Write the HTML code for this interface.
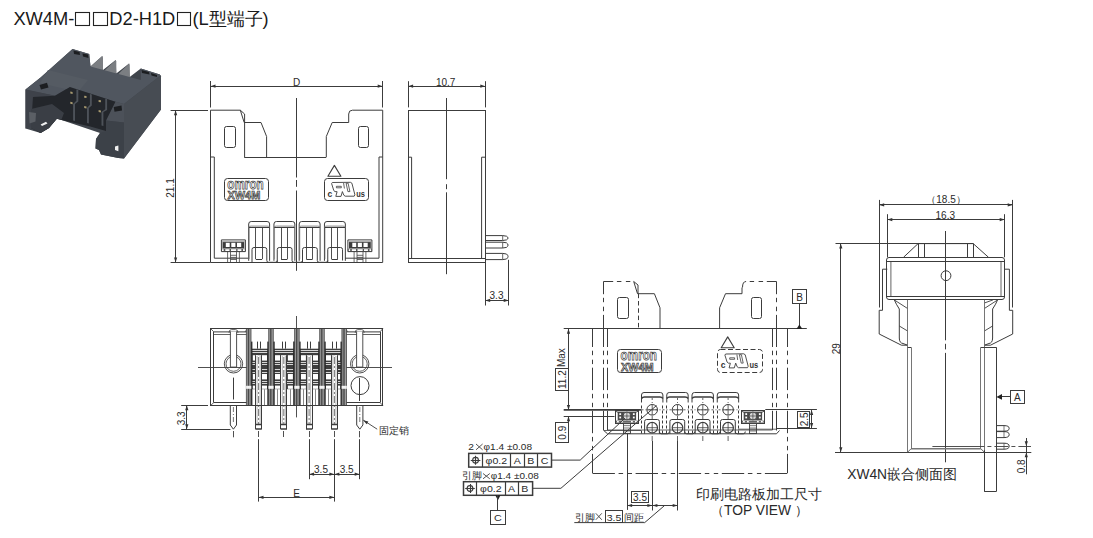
<!DOCTYPE html>
<html><head><meta charset="utf-8"><style>
html,body{margin:0;padding:0;background:#fff;width:1093px;height:538px;overflow:hidden}
svg{display:block;font-family:"Liberation Sans", sans-serif}
</style></head><body>
<svg width="1093" height="538" viewBox="0 0 1093 538">
<text x="13.4" y="25.3" font-size="18.3" text-anchor="start" fill="#1a1a1a">XW4M-</text>
<rect x="75.5" y="12.5" width="14" height="13" rx="0" stroke="#222" stroke-width="1.1" fill="none"/>
<rect x="93.5" y="12.5" width="14" height="13" rx="0" stroke="#222" stroke-width="1.1" fill="none"/>
<text x="109.3" y="25.3" font-size="18.3" text-anchor="start" fill="#1a1a1a">D2-H1D</text>
<rect x="177.5" y="12.5" width="13" height="13" rx="0" stroke="#222" stroke-width="1.1" fill="none"/>
<text x="192.4" y="25.3" font-size="18.3" text-anchor="start" fill="#1a1a1a">(L</text>
<text x="208.6" y="25.3" font-size="18.3" text-anchor="start" fill="#1a1a1a">型端子</text>
<text x="262.6" y="25.3" font-size="18.3" text-anchor="start" fill="#1a1a1a">)</text>
<path d="M72.5,48.9 L89.2,53.9 L90.5,66.5 L102.3,56.1 L103,70 L115.7,60 L116.3,73.5 L129.1,63.4 L129.7,77 L140.8,68.4 L159.8,74.5 L161,76 L161,109.5 L124,158.6 L118.4,158 L101,154.5 L99,150 L95.5,148.5 L96,139 L100,133 L61.5,120 L56.8,118.7 L49,127.9 L40.6,133 L25.5,128.5 L25.5,89.6 L40.6,77.4 Z" fill="#40454c"/>
<path d="M90.5,66.5 L102.3,56.1 L103,57.5 L103,71.5 L95,69 Z" fill="#7b7e82"/>
<path d="M103.5,71.5 L115.7,60 L116.3,61.5 L116.3,75.5 L108,73.5 Z" fill="#7b7e82"/>
<path d="M116.8,75.5 L129.1,63.4 L129.7,65 L129.7,79.5 L121,77.5 Z" fill="#7b7e82"/>
<path d="M72.5,48.9 L89.2,53.9 L90.5,66.5 L140.8,80 L140.8,68.4 L159.8,74.5 L160.5,75.5 L124,104 L115.4,101.8 L69.9,87 L55,95.8 L25.5,89.6 L40.6,77.4 Z" fill="#50565f"/>
<path d="M48,70 L88,80 L78,92 L40,83 Z" fill="#555b63"/>
<path d="M160.5,75.5 L161,76.5 L161,109.5 L124,158.6 L124,104 Z" fill="#474c53"/>
<path d="M115.4,101.8 L124,104 L124,122.5 L106,120.5 Z" fill="#4c5159"/>
<path d="M106,120.5 L124,122.5 L124,158.6 L118.4,158 L101,154.5 L99,150 L95.5,148.5 L96,139 L100,133 L106,131 Z" fill="#3c4148"/>
<path d="M25.5,89.6 L55,95.8 L33,97 L31,126 L25.5,128.5 Z" fill="#3e424a"/>
<path d="M33,97 L55,95.8 L69.9,87 L115.4,101.8 L106,120.5 L106,131 L90.3,126.5 L61.5,120 L56.8,118.7 L49,127.9 L40.6,133 L31,128 L31,126 Z" fill="#23262b"/>
<path d="M31,109 L52,104 L64,113 L61.5,119.5 L56.8,118.7 L49,127.9 L40.6,133 L31,128 Z" fill="#3a3e45"/>
<path d="M29,112 L36,113 L35.5,121.5 L29.5,123.5 Z" fill="#5b5f65"/>
<path d="M76.4,89.5 L78.3,90.1 L78.3,101.5 L75,104 L75,121 L73.1,120.5 L73.1,104 L76.4,100.7 Z" fill="#4d5259"/>
<path d="M89.9,94 L91.8,94.6 L91.8,105.5 L88.9,108 L88.9,123.5 L87,123 L87,108 L89.9,104.7 Z" fill="#4d5259"/>
<path d="M105.2,98.5 L107.1,99.1 L107.1,110 L103.4,112 L103.4,126 L101.5,125.5 L101.5,112 L105.2,109.2 Z" fill="#4d5259"/>
<path d="M70.3,91.5 L72.6,91.9 L72.6,93.9 L70.3,93.5 Z" fill="#a89a70"/>
<path d="M70.3,101.8 L72.6,102.2 L72.6,104.2 L70.3,103.8 Z" fill="#a89a70"/>
<path d="M84.2,95.7 L86.5,96.1 L86.5,98.1 L84.2,97.7 Z" fill="#a89a70"/>
<path d="M84.2,106 L86.5,106.4 L86.5,108.4 L84.2,108 Z" fill="#a89a70"/>
<path d="M98.6,99.9 L100.9,100.3 L100.9,102.3 L98.6,101.9 Z" fill="#a89a70"/>
<path d="M98.6,110.1 L100.9,110.5 L100.9,112.5 L98.6,112.1 Z" fill="#a89a70"/>
<path d="M39.5,85 L47,82.8 L48.5,87.5 L41,89.5 Z" fill="#1c1e21"/>
<path d="M113.8,107 L121.5,105.5 L122,110.5 L114.5,111.7 Z" fill="#1c1e21"/>
<path d="M40.6,124.5 L46,121.8 L47.5,123.5 L42,126 Z" fill="#f0f0f0"/>
<path d="M115,146.5 L118.4,145.4 L118.4,151.2 L115,150 Z" fill="#f0f0f0"/>
<path d="M73.5,50.5 L79.5,52 L80,55 L74,54 Z" fill="#1c1e21"/>
<path d="M141.5,70 L149,72 L149.5,74.5 L142,73 Z" fill="#1c1e21"/>
<path d="M151,73 L157,75 L157,77 L151.5,75.5 Z" fill="#1c1e21"/>
<path d="M82.5,53.5 L88,54.5 L88.5,58 L83,56.5 Z" fill="#1c1e21"/>
<line x1="210.5" y1="81" x2="210.5" y2="107.5" stroke="#3c3c3c" stroke-width="1"/>
<line x1="382.5" y1="81" x2="382.5" y2="107.5" stroke="#3c3c3c" stroke-width="1"/>
<line x1="210.5" y1="86.5" x2="382.7" y2="86.5" stroke="#3c3c3c" stroke-width="1"/>
<path d="M210.5,86.2 L215.5,84.6 L215.5,87.8 Z" fill="#333"/>
<path d="M382.7,86.2 L377.7,84.6 L377.7,87.8 Z" fill="#333"/>
<text x="296.5" y="85.7" font-size="10" text-anchor="middle" fill="#2a2a2a">D</text>
<line x1="170.6" y1="110.5" x2="208" y2="110.5" stroke="#3c3c3c" stroke-width="1"/>
<line x1="170.6" y1="262.5" x2="210.5" y2="262.5" stroke="#3c3c3c" stroke-width="1"/>
<line x1="175.5" y1="110.2" x2="175.5" y2="262.4" stroke="#3c3c3c" stroke-width="1"/>
<path d="M175.6,110.2 L174,115.2 L177.2,115.2 Z" fill="#333"/>
<path d="M175.6,262.4 L174,257.4 L177.2,257.4 Z" fill="#333"/>
<text x="174" y="188" font-size="10" text-anchor="middle" fill="#2a2a2a" transform="rotate(-90 174 188)">21.1</text>
<path d="M210.5,262.4 L210.5,110.2 L240.3,110.2 L244.6,114 L244.6,157" stroke="#3c3c3c" stroke-width="1" fill="none"/>
<line x1="240.3" y1="110.2" x2="244.2" y2="122.5" stroke="#3c3c3c" stroke-width="1"/>
<path d="M244.2,122.5 L261,122.5 L266.6,136.5 L266.6,157" stroke="#3c3c3c" stroke-width="1" fill="none"/>
<line x1="244.2" y1="157.5" x2="326.3" y2="157.5" stroke="#3c3c3c" stroke-width="1"/>
<path d="M326.3,157 L326.3,136.5 L332.2,122.5 L348.7,122.5 L348.7,114 Q348.7,110.2 352.5,110.2 L382.7,110.2 L382.7,262.4" stroke="#3c3c3c" stroke-width="1" fill="none"/>
<rect x="224.5" y="126.5" width="11" height="21" rx="2" stroke="#3c3c3c" stroke-width="1" fill="none"/>
<rect x="358.5" y="126.5" width="10" height="21" rx="2" stroke="#3c3c3c" stroke-width="1" fill="none"/>
<path d="M210.5,157 L214.3,157 L214.3,258.2 L248.2,258.2" stroke="#3c3c3c" stroke-width="1" fill="none"/>
<path d="M382.7,157 L379,157 L379,258.2 L345,258.2" stroke="#3c3c3c" stroke-width="1" fill="none"/>
<line x1="210.5" y1="262.5" x2="382.7" y2="262.5" stroke="#3c3c3c" stroke-width="1"/>
<line x1="296.5" y1="98" x2="296.5" y2="177.5" stroke="#3c3c3c" stroke-width="1"/>
<line x1="296.5" y1="180" x2="296.5" y2="186.8" stroke="#3c3c3c" stroke-width="1"/>
<line x1="296.5" y1="190.5" x2="296.5" y2="270.8" stroke="#3c3c3c" stroke-width="1"/>
<rect x="224.5" y="178.5" width="44" height="22" rx="3" stroke="#3c3c3c" stroke-width="1" fill="none"/>
<text x="227.3" y="188.8" font-size="14.5" font-weight="bold" textLength="36.4" lengthAdjust="spacingAndGlyphs" fill="#fff" stroke="#3a3a3a" stroke-width="0.75">omron</text>
<text x="227.6" y="199.1" font-size="10.7" font-weight="bold" textLength="32.6" lengthAdjust="spacingAndGlyphs" fill="#fff" stroke="#3a3a3a" stroke-width="0.75">XW4M</text>
<rect x="324.5" y="178.5" width="44" height="22" rx="3" stroke="#3c3c3c" stroke-width="1" fill="none"/>
<path d="M327.9,176.3 L334.4,165.4 L340.9,176.3 Z" stroke="#3c3c3c" stroke-width="1.1" fill="none" stroke-linejoin="round"/>
<path d="M332.3,182.5 L350.4,182.3 L351.9,183.2 L354.9,194.8 L354.2,196.2 L345.2,196.2 L343.8,195.2 L342.4,191.6 L341,196.4 L335.8,196.4 L337.1,191.7 L335,191.6 L333.8,190.6 L331.6,183.6 Z" stroke="#3c3c3c" stroke-width="0.9" fill="#fff"/>
<path d="M346.1,183.2 L348.1,183.2 L349.9,191.6 L347.9,191.6 Z" stroke="#3c3c3c" stroke-width="0.8" fill="none"/>
<path d="M336.4,186.3 L341.3,186.3 L341.3,187.8 L336.4,187.8 Z" stroke="#3c3c3c" stroke-width="0.8" fill="none"/>
<line x1="343.6" y1="183" x2="344.4" y2="188.5" stroke="#3c3c3c" stroke-width="0.8"/>
<text x="329.8" y="196.6" font-size="8.5" font-weight="bold" text-anchor="middle" fill="#333">c</text>
<text x="356.2" y="196.6" font-size="8.5" font-weight="bold" textLength="8.7" lengthAdjust="spacingAndGlyphs" fill="#333">us</text>
<path d="M248.7,260.8 L248.7,224 Q248.7,221.5 251.2,221.5 L267.1,221.5 Q269.6,221.5 269.6,224 L269.6,260.8" stroke="#3c3c3c" stroke-width="1" fill="none"/>
<line x1="249.3" y1="226.5" x2="249.3" y2="259" stroke="#777" stroke-width="0.6"/>
<path d="M248.7,227.1 Q249.3,226.1 251.2,226.1 L267.1,226.1 Q269,226.1 269.6,227.1" stroke="#888" stroke-width="1" fill="none"/>
<line x1="249" y1="227.5" x2="269.3" y2="227.5" stroke="#3c3c3c" stroke-width="1"/>
<line x1="255.5" y1="227.2" x2="255.5" y2="259.1" stroke="#3c3c3c" stroke-width="0.9"/>
<line x1="262.5" y1="227.2" x2="262.5" y2="259.1" stroke="#3c3c3c" stroke-width="0.9"/>
<line x1="255.85" y1="259.5" x2="262.05" y2="259.5" stroke="#3c3c3c" stroke-width="1"/>
<path d="M252,262.4 L252,249.5 Q252,247.5 254,247.5 L264.8,247.5 Q266.8,247.5 266.8,249.5 L266.8,260.5" stroke="#3c3c3c" stroke-width="1" fill="none"/>
<path d="M266.8,260.5 Q266.8,262.3 268.6,262.3 L275.45,262.3 Q277.25,262.3 277.25,260.5" stroke="#3c3c3c" stroke-width="1" fill="none"/>
<path d="M273.95,260.8 L273.95,224 Q273.95,221.5 276.45,221.5 L292.35,221.5 Q294.85,221.5 294.85,224 L294.85,260.8" stroke="#3c3c3c" stroke-width="1" fill="none"/>
<line x1="274.55" y1="226.5" x2="274.55" y2="259" stroke="#777" stroke-width="0.6"/>
<path d="M273.95,227.1 Q274.55,226.1 276.45,226.1 L292.35,226.1 Q294.25,226.1 294.85,227.1" stroke="#888" stroke-width="1" fill="none"/>
<line x1="274.25" y1="227.5" x2="294.55" y2="227.5" stroke="#3c3c3c" stroke-width="1"/>
<line x1="281.5" y1="227.2" x2="281.5" y2="259.1" stroke="#3c3c3c" stroke-width="0.9"/>
<line x1="287.5" y1="227.2" x2="287.5" y2="259.1" stroke="#3c3c3c" stroke-width="0.9"/>
<line x1="281.1" y1="259.5" x2="287.3" y2="259.5" stroke="#3c3c3c" stroke-width="1"/>
<path d="M277.25,262.4 L277.25,249.5 Q277.25,247.5 279.25,247.5 L290.05,247.5 Q292.05,247.5 292.05,249.5 L292.05,260.5" stroke="#3c3c3c" stroke-width="1" fill="none"/>
<path d="M292.05,260.5 Q292.05,262.3 293.85,262.3 L300.7,262.3 Q302.5,262.3 302.5,260.5" stroke="#3c3c3c" stroke-width="1" fill="none"/>
<path d="M299.2,260.8 L299.2,224 Q299.2,221.5 301.7,221.5 L317.6,221.5 Q320.1,221.5 320.1,224 L320.1,260.8" stroke="#3c3c3c" stroke-width="1" fill="none"/>
<line x1="299.8" y1="226.5" x2="299.8" y2="259" stroke="#777" stroke-width="0.6"/>
<path d="M299.2,227.1 Q299.8,226.1 301.7,226.1 L317.6,226.1 Q319.5,226.1 320.1,227.1" stroke="#888" stroke-width="1" fill="none"/>
<line x1="299.5" y1="227.5" x2="319.8" y2="227.5" stroke="#3c3c3c" stroke-width="1"/>
<line x1="306.5" y1="227.2" x2="306.5" y2="259.1" stroke="#3c3c3c" stroke-width="0.9"/>
<line x1="312.5" y1="227.2" x2="312.5" y2="259.1" stroke="#3c3c3c" stroke-width="0.9"/>
<line x1="306.35" y1="259.5" x2="312.55" y2="259.5" stroke="#3c3c3c" stroke-width="1"/>
<path d="M302.5,262.4 L302.5,249.5 Q302.5,247.5 304.5,247.5 L315.3,247.5 Q317.3,247.5 317.3,249.5 L317.3,260.5" stroke="#3c3c3c" stroke-width="1" fill="none"/>
<path d="M317.3,260.5 Q317.3,262.3 319.1,262.3 L325.95,262.3 Q327.75,262.3 327.75,260.5" stroke="#3c3c3c" stroke-width="1" fill="none"/>
<path d="M324.45,260.8 L324.45,224 Q324.45,221.5 326.95,221.5 L342.85,221.5 Q345.35,221.5 345.35,224 L345.35,260.8" stroke="#3c3c3c" stroke-width="1" fill="none"/>
<line x1="325.05" y1="226.5" x2="325.05" y2="259" stroke="#777" stroke-width="0.6"/>
<path d="M324.45,227.1 Q325.05,226.1 326.95,226.1 L342.85,226.1 Q344.75,226.1 345.35,227.1" stroke="#888" stroke-width="1" fill="none"/>
<line x1="324.75" y1="227.5" x2="345.05" y2="227.5" stroke="#3c3c3c" stroke-width="1"/>
<line x1="331.5" y1="227.2" x2="331.5" y2="259.1" stroke="#3c3c3c" stroke-width="0.9"/>
<line x1="337.5" y1="227.2" x2="337.5" y2="259.1" stroke="#3c3c3c" stroke-width="0.9"/>
<line x1="331.6" y1="259.5" x2="337.8" y2="259.5" stroke="#3c3c3c" stroke-width="1"/>
<path d="M327.75,262.4 L327.75,249.5 Q327.75,247.5 329.75,247.5 L340.55,247.5 Q342.55,247.5 342.55,249.5 L342.55,260.5" stroke="#3c3c3c" stroke-width="1" fill="none"/>
<rect x="222.5" y="241" width="21.8" height="7.5" rx="0" stroke="none" stroke-width="0" fill="#3c3c3c"/>
<rect x="225.8" y="242.8" width="3.9" height="4.2" rx="0" stroke="none" stroke-width="0" fill="#fff"/>
<rect x="231.3" y="242.8" width="4.1" height="4.2" rx="0" stroke="none" stroke-width="0" fill="#fff"/>
<rect x="237" y="242.8" width="4.2" height="4.2" rx="0" stroke="none" stroke-width="0" fill="#fff"/>
<line x1="222.5" y1="241.6" x2="244.3" y2="241.6" stroke="#ddd" stroke-width="0.8"/>
<rect x="221.4" y="248.8" width="24" height="2.5" rx="0" stroke="none" stroke-width="0" fill="#555"/>
<rect x="222" y="249.2" width="1.7" height="1.8" rx="0" stroke="none" stroke-width="0" fill="#fff"/>
<rect x="225.3" y="249.2" width="4.2" height="1.8" rx="0" stroke="none" stroke-width="0" fill="#fff"/>
<rect x="231" y="249.2" width="5.2" height="1.8" rx="0" stroke="none" stroke-width="0" fill="#fff"/>
<rect x="237.5" y="249.2" width="3.9" height="1.8" rx="0" stroke="none" stroke-width="0" fill="#fff"/>
<rect x="243" y="249.2" width="2" height="1.8" rx="0" stroke="none" stroke-width="0" fill="#fff"/>
<path d="M221.4,239.9 L245.4,239.9 L245.4,251.6 L221.4,251.6 Z" stroke="#3c3c3c" stroke-width="1" fill="none"/>
<line x1="227.6" y1="251.6" x2="227.6" y2="262.2" stroke="#444" stroke-width="0.8"/>
<line x1="230.5" y1="251.6" x2="230.5" y2="262.2" stroke="#444" stroke-width="0.8"/>
<line x1="236.5" y1="251.6" x2="236.5" y2="262.2" stroke="#444" stroke-width="0.8"/>
<line x1="239.4" y1="251.6" x2="239.4" y2="262.2" stroke="#444" stroke-width="0.8"/>
<line x1="230.5" y1="255.3" x2="236.5" y2="255.3" stroke="#444" stroke-width="0.8"/>
<line x1="230.5" y1="257.4" x2="236.5" y2="257.4" stroke="#444" stroke-width="0.8"/>
<line x1="230.5" y1="259.5" x2="236.5" y2="259.5" stroke="#444" stroke-width="0.8"/>
<rect x="349" y="241" width="21.8" height="7.5" rx="0" stroke="none" stroke-width="0" fill="#3c3c3c"/>
<rect x="352.3" y="242.8" width="3.9" height="4.2" rx="0" stroke="none" stroke-width="0" fill="#fff"/>
<rect x="357.8" y="242.8" width="4.1" height="4.2" rx="0" stroke="none" stroke-width="0" fill="#fff"/>
<rect x="363.5" y="242.8" width="4.2" height="4.2" rx="0" stroke="none" stroke-width="0" fill="#fff"/>
<line x1="349" y1="241.6" x2="370.8" y2="241.6" stroke="#ddd" stroke-width="0.8"/>
<rect x="347.9" y="248.8" width="24" height="2.5" rx="0" stroke="none" stroke-width="0" fill="#555"/>
<rect x="348.5" y="249.2" width="1.7" height="1.8" rx="0" stroke="none" stroke-width="0" fill="#fff"/>
<rect x="351.8" y="249.2" width="4.2" height="1.8" rx="0" stroke="none" stroke-width="0" fill="#fff"/>
<rect x="357.5" y="249.2" width="5.2" height="1.8" rx="0" stroke="none" stroke-width="0" fill="#fff"/>
<rect x="364" y="249.2" width="3.9" height="1.8" rx="0" stroke="none" stroke-width="0" fill="#fff"/>
<rect x="369.5" y="249.2" width="2" height="1.8" rx="0" stroke="none" stroke-width="0" fill="#fff"/>
<path d="M347.9,239.9 L371.9,239.9 L371.9,251.6 L347.9,251.6 Z" stroke="#3c3c3c" stroke-width="1" fill="none"/>
<line x1="354.1" y1="251.6" x2="354.1" y2="262.2" stroke="#444" stroke-width="0.8"/>
<line x1="357" y1="251.6" x2="357" y2="262.2" stroke="#444" stroke-width="0.8"/>
<line x1="363" y1="251.6" x2="363" y2="262.2" stroke="#444" stroke-width="0.8"/>
<line x1="365.9" y1="251.6" x2="365.9" y2="262.2" stroke="#444" stroke-width="0.8"/>
<line x1="357" y1="255.3" x2="363" y2="255.3" stroke="#444" stroke-width="0.8"/>
<line x1="357" y1="257.4" x2="363" y2="257.4" stroke="#444" stroke-width="0.8"/>
<line x1="357" y1="259.5" x2="363" y2="259.5" stroke="#444" stroke-width="0.8"/>
<line x1="408.5" y1="81.2" x2="408.5" y2="107.4" stroke="#3c3c3c" stroke-width="1"/>
<line x1="485.5" y1="81.2" x2="485.5" y2="107.4" stroke="#3c3c3c" stroke-width="1"/>
<line x1="408.1" y1="86.5" x2="485.3" y2="86.5" stroke="#3c3c3c" stroke-width="1"/>
<path d="M408.1,86.2 L413.1,84.6 L413.1,87.8 Z" fill="#333"/>
<path d="M485.3,86.2 L480.3,84.6 L480.3,87.8 Z" fill="#333"/>
<text x="445.7" y="85.7" font-size="10" text-anchor="middle" fill="#2a2a2a">10.7</text>
<rect x="408.5" y="110.5" width="77" height="152" rx="0" stroke="#3c3c3c" stroke-width="1" fill="none"/>
<path d="M408.1,157.2 L411.6,157.2 L411.6,258.6" stroke="#3c3c3c" stroke-width="1" fill="none"/>
<path d="M485.3,157.2 L481.6,157.2 L481.6,258.6" stroke="#3c3c3c" stroke-width="1" fill="none"/>
<line x1="408.1" y1="258.5" x2="485.3" y2="258.5" stroke="#3c3c3c" stroke-width="1"/>
<line x1="446.5" y1="98" x2="446.5" y2="179.2" stroke="#3c3c3c" stroke-width="1"/>
<line x1="446.5" y1="184.2" x2="446.5" y2="189.2" stroke="#3c3c3c" stroke-width="1"/>
<line x1="446.5" y1="192.3" x2="446.5" y2="274.2" stroke="#3c3c3c" stroke-width="1"/>
<path d="M485.3,235.6 L502.7,235.6 L506.5,236.2 Q509.6,238.05 506.5,239.9 L502.7,240.5 L485.3,240.5" stroke="#3c3c3c" stroke-width="1" fill="none"/>
<line x1="502.7" y1="235.6" x2="502.7" y2="240.5" stroke="#3c3c3c" stroke-width="0.8"/>
<path d="M485.3,242.2 L502.7,242.2 L506.5,242.8 Q509.6,245.1 506.5,247.4 L502.7,248 L485.3,248" stroke="#3c3c3c" stroke-width="1" fill="none"/>
<line x1="502.7" y1="242.2" x2="502.7" y2="248" stroke="#3c3c3c" stroke-width="0.8"/>
<path d="M485.3,253.4 L502.7,253.4 L506.5,254 Q509.6,256.5 506.5,259 L502.7,259.6 L485.3,259.6" stroke="#3c3c3c" stroke-width="1" fill="none"/>
<line x1="502.7" y1="253.4" x2="502.7" y2="259.6" stroke="#3c3c3c" stroke-width="0.8"/>
<line x1="485.5" y1="262.3" x2="485.5" y2="305.5" stroke="#3c3c3c" stroke-width="1"/>
<line x1="508.5" y1="259.8" x2="508.5" y2="305.5" stroke="#3c3c3c" stroke-width="1"/>
<line x1="485.2" y1="300.5" x2="508.7" y2="300.5" stroke="#3c3c3c" stroke-width="1"/>
<path d="M485.2,300.4 L490.2,298.8 L490.2,302 Z" fill="#333"/>
<path d="M508.7,300.4 L503.7,298.8 L503.7,302 Z" fill="#333"/>
<text x="496.5" y="299" font-size="10" text-anchor="middle" fill="#2a2a2a">3.3</text>
<rect x="210.5" y="328.5" width="172" height="77" rx="0" stroke="#3c3c3c" stroke-width="1" fill="none"/>
<path d="M247.7,328.5 L247.7,405.5" stroke="#3c3c3c" stroke-width="1" fill="none"/>
<path d="M345,328.5 L345,405.5" stroke="#3c3c3c" stroke-width="1" fill="none"/>
<path d="M213.9,331.9 L247.7,331.9" stroke="#3c3c3c" stroke-width="1" fill="none"/>
<path d="M213.9,402.5 L247.7,402.5" stroke="#3c3c3c" stroke-width="1" fill="none"/>
<line x1="213.5" y1="331.9" x2="213.5" y2="402.5" stroke="#3c3c3c" stroke-width="1"/>
<path d="M345,331.9 L380,331.9" stroke="#3c3c3c" stroke-width="1" fill="none"/>
<path d="M345,402.5 L380,402.5" stroke="#3c3c3c" stroke-width="1" fill="none"/>
<line x1="380.5" y1="331.9" x2="380.5" y2="402.5" stroke="#3c3c3c" stroke-width="1"/>
<line x1="210.5" y1="328.5" x2="213.9" y2="331.9" stroke="#3c3c3c" stroke-width="0.8"/>
<line x1="210.5" y1="405.5" x2="213.9" y2="402.5" stroke="#3c3c3c" stroke-width="0.8"/>
<line x1="382.9" y1="328.5" x2="380" y2="331.9" stroke="#3c3c3c" stroke-width="0.8"/>
<line x1="382.9" y1="405.5" x2="380" y2="402.5" stroke="#3c3c3c" stroke-width="0.8"/>
<line x1="245" y1="331.9" x2="247.7" y2="328.5" stroke="#3c3c3c" stroke-width="0.8"/>
<line x1="345" y1="328.5" x2="348" y2="331.9" stroke="#3c3c3c" stroke-width="0.8"/>
<line x1="213.9" y1="334.5" x2="247.7" y2="334.5" stroke="#3c3c3c" stroke-width="0.8"/>
<line x1="345" y1="334.5" x2="380" y2="334.5" stroke="#3c3c3c" stroke-width="0.8"/>
<circle cx="233.5" cy="363.8" r="9.2" stroke="#3c3c3c" stroke-width="0.9" fill="none"/>
<circle cx="233.5" cy="363.8" r="7.5" stroke="#3c3c3c" stroke-width="0.8" fill="none"/>
<path d="M230.4,331.5 L230.4,367.1 L236.6,367.1 L236.6,331.5" stroke="#3c3c3c" stroke-width="0.9" fill="#fff"/>
<path d="M229,332.8 Q229,329.6 231.5,329.6 L235.5,329.6 Q238,329.6 238,332.8" stroke="#3c3c3c" stroke-width="0.8" fill="none"/>
<circle cx="359.7" cy="363.8" r="9.2" stroke="#3c3c3c" stroke-width="0.9" fill="none"/>
<circle cx="359.7" cy="363.8" r="7.5" stroke="#3c3c3c" stroke-width="0.8" fill="none"/>
<path d="M356.6,331.5 L356.6,367.1 L362.8,367.1 L362.8,331.5" stroke="#3c3c3c" stroke-width="0.9" fill="#fff"/>
<path d="M355.2,332.8 Q355.2,329.6 357.7,329.6 L361.7,329.6 Q364.2,329.6 364.2,332.8" stroke="#3c3c3c" stroke-width="0.8" fill="none"/>
<circle cx="360" cy="385.6" r="9" stroke="#3c3c3c" stroke-width="1" fill="none"/>
<line x1="359.5" y1="378" x2="359.5" y2="401" stroke="#3c3c3c" stroke-width="1"/>
<line x1="233.5" y1="377.6" x2="233.5" y2="399.5" stroke="#3c3c3c" stroke-width="1"/>
<line x1="198" y1="367.5" x2="392" y2="367.5" stroke="#3c3c3c" stroke-width="0.9"/>
<line x1="296.5" y1="316" x2="296.5" y2="417.4" stroke="#3c3c3c" stroke-width="0.9"/>
<rect x="250.5" y="348.7" width="18.7" height="40.5" rx="0" stroke="none" stroke-width="0" fill="#3e3e3e"/>
<rect x="252.7" y="355.2" width="5" height="5.4" rx="0" stroke="none" stroke-width="0" fill="#fff"/>
<rect x="262" y="355.2" width="5" height="5.4" rx="0" stroke="none" stroke-width="0" fill="#fff"/>
<rect x="252.7" y="374" width="5" height="5.4" rx="0" stroke="none" stroke-width="0" fill="#fff"/>
<rect x="262" y="374" width="5" height="5.4" rx="0" stroke="none" stroke-width="0" fill="#fff"/>
<rect x="252.7" y="385.6" width="5" height="3.2" rx="0" stroke="none" stroke-width="0" fill="#fff"/>
<rect x="262" y="385.6" width="5" height="3.2" rx="0" stroke="none" stroke-width="0" fill="#fff"/>
<line x1="252.1" y1="350.5" x2="267.6" y2="350.5" stroke="#e6e6e6" stroke-width="0.9"/>
<line x1="252.1" y1="352.5" x2="267.6" y2="352.5" stroke="#e6e6e6" stroke-width="0.9"/>
<line x1="252.1" y1="362.5" x2="267.6" y2="362.5" stroke="#e6e6e6" stroke-width="0.9"/>
<line x1="252.1" y1="364.5" x2="267.6" y2="364.5" stroke="#e6e6e6" stroke-width="0.9"/>
<line x1="252.1" y1="369.5" x2="267.6" y2="369.5" stroke="#e6e6e6" stroke-width="0.9"/>
<line x1="252.1" y1="372.5" x2="267.6" y2="372.5" stroke="#e6e6e6" stroke-width="0.9"/>
<line x1="252.1" y1="381.5" x2="267.6" y2="381.5" stroke="#e6e6e6" stroke-width="0.9"/>
<line x1="252.1" y1="383.5" x2="267.6" y2="383.5" stroke="#e6e6e6" stroke-width="0.9"/>
<line x1="251.5" y1="341.6" x2="251.5" y2="405.5" stroke="#262626" stroke-width="1.8"/>
<line x1="268.2" y1="341.6" x2="268.2" y2="405.5" stroke="#262626" stroke-width="1.8"/>
<line x1="255.5" y1="389.2" x2="255.5" y2="405.5" stroke="#888" stroke-width="1"/>
<line x1="264.5" y1="389.2" x2="264.5" y2="405.5" stroke="#888" stroke-width="1"/>
<line x1="257.5" y1="341.6" x2="257.5" y2="348.7" stroke="#3c3c3c" stroke-width="1"/>
<line x1="260.5" y1="341.6" x2="260.5" y2="348.7" stroke="#3c3c3c" stroke-width="1"/>
<rect x="255.5" y="355.2" width="6.2" height="74" rx="0" stroke="none" stroke-width="0" fill="#fff"/>
<line x1="255.5" y1="355.2" x2="255.5" y2="429.2" stroke="#3c3c3c" stroke-width="1"/>
<line x1="261.5" y1="355.2" x2="261.5" y2="429.2" stroke="#3c3c3c" stroke-width="1"/>
<line x1="257.1" y1="356" x2="257.1" y2="424.5" stroke="#888" stroke-width="0.6"/>
<line x1="260.1" y1="356" x2="260.1" y2="424.5" stroke="#888" stroke-width="0.6"/>
<line x1="258.6" y1="357" x2="258.6" y2="424" stroke="#555" stroke-width="0.8" stroke-dasharray="7 2 2 2"/>
<path d="M255.5,424.5 L261.7,424.5 M255.5,429 L261.7,429" stroke="#3c3c3c" stroke-width="1.4" fill="none"/>
<line x1="258.5" y1="431" x2="258.5" y2="437" stroke="#3c3c3c" stroke-width="0.9"/>
<rect x="272.8" y="348.7" width="22.3" height="40.5" rx="0" stroke="none" stroke-width="0" fill="#3e3e3e"/>
<rect x="275" y="355.2" width="5" height="5.4" rx="0" stroke="none" stroke-width="0" fill="#fff"/>
<rect x="287.9" y="355.2" width="5" height="5.4" rx="0" stroke="none" stroke-width="0" fill="#fff"/>
<rect x="275" y="374" width="5" height="5.4" rx="0" stroke="none" stroke-width="0" fill="#fff"/>
<rect x="287.9" y="374" width="5" height="5.4" rx="0" stroke="none" stroke-width="0" fill="#fff"/>
<rect x="275" y="385.6" width="5" height="3.2" rx="0" stroke="none" stroke-width="0" fill="#fff"/>
<rect x="287.9" y="385.6" width="5" height="3.2" rx="0" stroke="none" stroke-width="0" fill="#fff"/>
<line x1="274.4" y1="350.5" x2="293.5" y2="350.5" stroke="#e6e6e6" stroke-width="0.9"/>
<line x1="274.4" y1="352.5" x2="293.5" y2="352.5" stroke="#e6e6e6" stroke-width="0.9"/>
<line x1="274.4" y1="362.5" x2="293.5" y2="362.5" stroke="#e6e6e6" stroke-width="0.9"/>
<line x1="274.4" y1="364.5" x2="293.5" y2="364.5" stroke="#e6e6e6" stroke-width="0.9"/>
<line x1="274.4" y1="369.5" x2="293.5" y2="369.5" stroke="#e6e6e6" stroke-width="0.9"/>
<line x1="274.4" y1="372.5" x2="293.5" y2="372.5" stroke="#e6e6e6" stroke-width="0.9"/>
<line x1="274.4" y1="381.5" x2="293.5" y2="381.5" stroke="#e6e6e6" stroke-width="0.9"/>
<line x1="274.4" y1="383.5" x2="293.5" y2="383.5" stroke="#e6e6e6" stroke-width="0.9"/>
<line x1="273.8" y1="341.6" x2="273.8" y2="405.5" stroke="#262626" stroke-width="1.8"/>
<line x1="294.1" y1="341.6" x2="294.1" y2="405.5" stroke="#262626" stroke-width="1.8"/>
<line x1="277.5" y1="389.2" x2="277.5" y2="405.5" stroke="#888" stroke-width="1"/>
<line x1="290.5" y1="389.2" x2="290.5" y2="405.5" stroke="#888" stroke-width="1"/>
<line x1="282.5" y1="341.6" x2="282.5" y2="348.7" stroke="#3c3c3c" stroke-width="1"/>
<line x1="285.5" y1="341.6" x2="285.5" y2="348.7" stroke="#3c3c3c" stroke-width="1"/>
<rect x="280.7" y="355.2" width="6.2" height="74" rx="0" stroke="none" stroke-width="0" fill="#fff"/>
<line x1="280.5" y1="355.2" x2="280.5" y2="429.2" stroke="#3c3c3c" stroke-width="1"/>
<line x1="286.5" y1="355.2" x2="286.5" y2="429.2" stroke="#3c3c3c" stroke-width="1"/>
<line x1="282.3" y1="356" x2="282.3" y2="424.5" stroke="#888" stroke-width="0.6"/>
<line x1="285.3" y1="356" x2="285.3" y2="424.5" stroke="#888" stroke-width="0.6"/>
<line x1="283.8" y1="357" x2="283.8" y2="424" stroke="#555" stroke-width="0.8" stroke-dasharray="7 2 2 2"/>
<path d="M280.7,424.5 L286.9,424.5 M280.7,429 L286.9,429" stroke="#3c3c3c" stroke-width="1.4" fill="none"/>
<line x1="283.5" y1="431" x2="283.5" y2="437" stroke="#3c3c3c" stroke-width="0.9"/>
<rect x="298.7" y="348.7" width="21.5" height="40.5" rx="0" stroke="none" stroke-width="0" fill="#3e3e3e"/>
<rect x="300.9" y="355.2" width="5" height="5.4" rx="0" stroke="none" stroke-width="0" fill="#fff"/>
<rect x="313" y="355.2" width="5" height="5.4" rx="0" stroke="none" stroke-width="0" fill="#fff"/>
<rect x="300.9" y="374" width="5" height="5.4" rx="0" stroke="none" stroke-width="0" fill="#fff"/>
<rect x="313" y="374" width="5" height="5.4" rx="0" stroke="none" stroke-width="0" fill="#fff"/>
<rect x="300.9" y="385.6" width="5" height="3.2" rx="0" stroke="none" stroke-width="0" fill="#fff"/>
<rect x="313" y="385.6" width="5" height="3.2" rx="0" stroke="none" stroke-width="0" fill="#fff"/>
<line x1="300.3" y1="350.5" x2="318.6" y2="350.5" stroke="#e6e6e6" stroke-width="0.9"/>
<line x1="300.3" y1="352.5" x2="318.6" y2="352.5" stroke="#e6e6e6" stroke-width="0.9"/>
<line x1="300.3" y1="362.5" x2="318.6" y2="362.5" stroke="#e6e6e6" stroke-width="0.9"/>
<line x1="300.3" y1="364.5" x2="318.6" y2="364.5" stroke="#e6e6e6" stroke-width="0.9"/>
<line x1="300.3" y1="369.5" x2="318.6" y2="369.5" stroke="#e6e6e6" stroke-width="0.9"/>
<line x1="300.3" y1="372.5" x2="318.6" y2="372.5" stroke="#e6e6e6" stroke-width="0.9"/>
<line x1="300.3" y1="381.5" x2="318.6" y2="381.5" stroke="#e6e6e6" stroke-width="0.9"/>
<line x1="300.3" y1="383.5" x2="318.6" y2="383.5" stroke="#e6e6e6" stroke-width="0.9"/>
<line x1="299.7" y1="341.6" x2="299.7" y2="405.5" stroke="#262626" stroke-width="1.8"/>
<line x1="319.2" y1="341.6" x2="319.2" y2="405.5" stroke="#262626" stroke-width="1.8"/>
<line x1="303.5" y1="389.2" x2="303.5" y2="405.5" stroke="#888" stroke-width="1"/>
<line x1="315.5" y1="389.2" x2="315.5" y2="405.5" stroke="#888" stroke-width="1"/>
<line x1="307.5" y1="341.6" x2="307.5" y2="348.7" stroke="#3c3c3c" stroke-width="1"/>
<line x1="310.5" y1="341.6" x2="310.5" y2="348.7" stroke="#3c3c3c" stroke-width="1"/>
<rect x="306" y="355.2" width="6.2" height="74" rx="0" stroke="none" stroke-width="0" fill="#fff"/>
<line x1="306.5" y1="355.2" x2="306.5" y2="429.2" stroke="#3c3c3c" stroke-width="1"/>
<line x1="312.5" y1="355.2" x2="312.5" y2="429.2" stroke="#3c3c3c" stroke-width="1"/>
<line x1="307.6" y1="356" x2="307.6" y2="424.5" stroke="#888" stroke-width="0.6"/>
<line x1="310.6" y1="356" x2="310.6" y2="424.5" stroke="#888" stroke-width="0.6"/>
<line x1="309.1" y1="357" x2="309.1" y2="424" stroke="#555" stroke-width="0.8" stroke-dasharray="7 2 2 2"/>
<path d="M306,424.5 L312.2,424.5 M306,429 L312.2,429" stroke="#3c3c3c" stroke-width="1.4" fill="none"/>
<line x1="309.5" y1="431" x2="309.5" y2="437" stroke="#3c3c3c" stroke-width="0.9"/>
<rect x="323.8" y="348.7" width="18.6" height="40.5" rx="0" stroke="none" stroke-width="0" fill="#3e3e3e"/>
<rect x="326" y="355.2" width="5" height="5.4" rx="0" stroke="none" stroke-width="0" fill="#fff"/>
<rect x="335.2" y="355.2" width="5" height="5.4" rx="0" stroke="none" stroke-width="0" fill="#fff"/>
<rect x="326" y="374" width="5" height="5.4" rx="0" stroke="none" stroke-width="0" fill="#fff"/>
<rect x="335.2" y="374" width="5" height="5.4" rx="0" stroke="none" stroke-width="0" fill="#fff"/>
<rect x="326" y="385.6" width="5" height="3.2" rx="0" stroke="none" stroke-width="0" fill="#fff"/>
<rect x="335.2" y="385.6" width="5" height="3.2" rx="0" stroke="none" stroke-width="0" fill="#fff"/>
<line x1="325.4" y1="350.5" x2="340.8" y2="350.5" stroke="#e6e6e6" stroke-width="0.9"/>
<line x1="325.4" y1="352.5" x2="340.8" y2="352.5" stroke="#e6e6e6" stroke-width="0.9"/>
<line x1="325.4" y1="362.5" x2="340.8" y2="362.5" stroke="#e6e6e6" stroke-width="0.9"/>
<line x1="325.4" y1="364.5" x2="340.8" y2="364.5" stroke="#e6e6e6" stroke-width="0.9"/>
<line x1="325.4" y1="369.5" x2="340.8" y2="369.5" stroke="#e6e6e6" stroke-width="0.9"/>
<line x1="325.4" y1="372.5" x2="340.8" y2="372.5" stroke="#e6e6e6" stroke-width="0.9"/>
<line x1="325.4" y1="381.5" x2="340.8" y2="381.5" stroke="#e6e6e6" stroke-width="0.9"/>
<line x1="325.4" y1="383.5" x2="340.8" y2="383.5" stroke="#e6e6e6" stroke-width="0.9"/>
<line x1="324.8" y1="341.6" x2="324.8" y2="405.5" stroke="#262626" stroke-width="1.8"/>
<line x1="341.4" y1="341.6" x2="341.4" y2="405.5" stroke="#262626" stroke-width="1.8"/>
<line x1="328.5" y1="389.2" x2="328.5" y2="405.5" stroke="#888" stroke-width="1"/>
<line x1="337.5" y1="389.2" x2="337.5" y2="405.5" stroke="#888" stroke-width="1"/>
<line x1="332.5" y1="341.6" x2="332.5" y2="348.7" stroke="#3c3c3c" stroke-width="1"/>
<line x1="336.5" y1="341.6" x2="336.5" y2="348.7" stroke="#3c3c3c" stroke-width="1"/>
<rect x="331.3" y="355.2" width="6.2" height="74" rx="0" stroke="none" stroke-width="0" fill="#fff"/>
<line x1="331.5" y1="355.2" x2="331.5" y2="429.2" stroke="#3c3c3c" stroke-width="1"/>
<line x1="337.5" y1="355.2" x2="337.5" y2="429.2" stroke="#3c3c3c" stroke-width="1"/>
<line x1="332.9" y1="356" x2="332.9" y2="424.5" stroke="#888" stroke-width="0.6"/>
<line x1="335.9" y1="356" x2="335.9" y2="424.5" stroke="#888" stroke-width="0.6"/>
<line x1="334.4" y1="357" x2="334.4" y2="424" stroke="#555" stroke-width="0.8" stroke-dasharray="7 2 2 2"/>
<path d="M331.3,424.5 L337.5,424.5 M331.3,429 L337.5,429" stroke="#3c3c3c" stroke-width="1.4" fill="none"/>
<line x1="334.5" y1="431" x2="334.5" y2="437" stroke="#3c3c3c" stroke-width="0.9"/>
<rect x="246.4" y="328.5" width="4.6" height="77" rx="0" stroke="none" stroke-width="0" fill="#9c9c9c"/>
<line x1="246.4" y1="328.5" x2="246.4" y2="405.5" stroke="#444" stroke-width="0.8"/>
<line x1="251" y1="328.5" x2="251" y2="405.5" stroke="#444" stroke-width="0.8"/>
<line x1="248.5" y1="328.5" x2="248.5" y2="405.5" stroke="#4a4a4a" stroke-width="1.4"/>
<rect x="246.1" y="385.8" width="5.2" height="3" rx="0" stroke="none" stroke-width="0" fill="#f2f2f2"/>
<rect x="268.7" y="328.5" width="4.6" height="77" rx="0" stroke="none" stroke-width="0" fill="#9c9c9c"/>
<line x1="268.7" y1="328.5" x2="268.7" y2="405.5" stroke="#444" stroke-width="0.8"/>
<line x1="273.3" y1="328.5" x2="273.3" y2="405.5" stroke="#444" stroke-width="0.8"/>
<line x1="270.8" y1="328.5" x2="270.8" y2="405.5" stroke="#4a4a4a" stroke-width="1.4"/>
<rect x="268.4" y="385.8" width="5.2" height="3" rx="0" stroke="none" stroke-width="0" fill="#f2f2f2"/>
<rect x="294.6" y="328.5" width="4.6" height="77" rx="0" stroke="none" stroke-width="0" fill="#9c9c9c"/>
<line x1="294.6" y1="328.5" x2="294.6" y2="405.5" stroke="#444" stroke-width="0.8"/>
<line x1="299.2" y1="328.5" x2="299.2" y2="405.5" stroke="#444" stroke-width="0.8"/>
<line x1="296.7" y1="328.5" x2="296.7" y2="405.5" stroke="#4a4a4a" stroke-width="1.4"/>
<rect x="294.3" y="385.8" width="5.2" height="3" rx="0" stroke="none" stroke-width="0" fill="#f2f2f2"/>
<rect x="319.7" y="328.5" width="4.6" height="77" rx="0" stroke="none" stroke-width="0" fill="#9c9c9c"/>
<line x1="319.7" y1="328.5" x2="319.7" y2="405.5" stroke="#444" stroke-width="0.8"/>
<line x1="324.3" y1="328.5" x2="324.3" y2="405.5" stroke="#444" stroke-width="0.8"/>
<line x1="321.8" y1="328.5" x2="321.8" y2="405.5" stroke="#4a4a4a" stroke-width="1.4"/>
<rect x="319.4" y="385.8" width="5.2" height="3" rx="0" stroke="none" stroke-width="0" fill="#f2f2f2"/>
<rect x="341.9" y="328.5" width="4.6" height="77" rx="0" stroke="none" stroke-width="0" fill="#9c9c9c"/>
<line x1="341.9" y1="328.5" x2="341.9" y2="405.5" stroke="#444" stroke-width="0.8"/>
<line x1="346.5" y1="328.5" x2="346.5" y2="405.5" stroke="#444" stroke-width="0.8"/>
<line x1="344" y1="328.5" x2="344" y2="405.5" stroke="#4a4a4a" stroke-width="1.4"/>
<rect x="341.6" y="385.8" width="5.2" height="3" rx="0" stroke="none" stroke-width="0" fill="#f2f2f2"/>
<line x1="210.5" y1="328.5" x2="382.9" y2="328.5" stroke="#3c3c3c" stroke-width="1"/>
<line x1="210.5" y1="405.5" x2="382.9" y2="405.5" stroke="#3c3c3c" stroke-width="1"/>
<path d="M230.3,405.5 L230.3,425 L233.4,429.2 L236.5,425 L236.5,405.5" stroke="#3c3c3c" stroke-width="1" fill="none"/>
<line x1="233.4" y1="407" x2="233.4" y2="423" stroke="#3c3c3c" stroke-width="0.7" stroke-dasharray="5 2 1 2"/>
<line x1="233.5" y1="431" x2="233.5" y2="437.3" stroke="#3c3c3c" stroke-width="0.9"/>
<path d="M356.7,405.5 L356.7,425 L359.8,429.2 L362.9,425 L362.9,405.5" stroke="#3c3c3c" stroke-width="1" fill="none"/>
<line x1="359.8" y1="407" x2="359.8" y2="423" stroke="#3c3c3c" stroke-width="0.7" stroke-dasharray="5 2 1 2"/>
<line x1="359.5" y1="431" x2="359.5" y2="437.3" stroke="#3c3c3c" stroke-width="0.9"/>
<line x1="181.2" y1="405.5" x2="208" y2="405.5" stroke="#3c3c3c" stroke-width="1"/>
<line x1="181.2" y1="429.5" x2="230.4" y2="429.5" stroke="#3c3c3c" stroke-width="1"/>
<line x1="186.5" y1="405.2" x2="186.5" y2="429.2" stroke="#3c3c3c" stroke-width="1"/>
<path d="M186.8,405.2 L185.2,410.2 L188.4,410.2 Z" fill="#333"/>
<path d="M186.8,429.2 L185.2,424.2 L188.4,424.2 Z" fill="#333"/>
<text x="185" y="418.4" font-size="10" text-anchor="middle" fill="#2a2a2a" transform="rotate(-90 185 418.4)">3.3</text>
<line x1="258.5" y1="439.2" x2="258.5" y2="501.6" stroke="#3c3c3c" stroke-width="1"/>
<line x1="334.5" y1="439.2" x2="334.5" y2="501.6" stroke="#3c3c3c" stroke-width="1"/>
<line x1="309.5" y1="439.2" x2="309.5" y2="479.2" stroke="#3c3c3c" stroke-width="1"/>
<line x1="359.5" y1="439.2" x2="359.5" y2="479.2" stroke="#3c3c3c" stroke-width="1"/>
<line x1="309.1" y1="474.5" x2="334.4" y2="474.5" stroke="#3c3c3c" stroke-width="1"/>
<path d="M309.1,474.2 L314.1,472.6 L314.1,475.8 Z" fill="#333"/>
<path d="M334.4,474.2 L329.4,472.6 L329.4,475.8 Z" fill="#333"/>
<line x1="334.4" y1="474.5" x2="359.7" y2="474.5" stroke="#3c3c3c" stroke-width="1"/>
<path d="M334.4,474.2 L339.4,472.6 L339.4,475.8 Z" fill="#333"/>
<path d="M359.7,474.2 L354.7,472.6 L354.7,475.8 Z" fill="#333"/>
<text x="321" y="472.7" font-size="10" text-anchor="middle" fill="#2a2a2a">3.5</text>
<text x="346.6" y="472.7" font-size="10" text-anchor="middle" fill="#2a2a2a">3.5</text>
<line x1="258.5" y1="497.5" x2="334.4" y2="497.5" stroke="#3c3c3c" stroke-width="1"/>
<path d="M258.5,497.3 L263.5,495.7 L263.5,498.9 Z" fill="#333"/>
<path d="M334.4,497.3 L329.4,495.7 L329.4,498.9 Z" fill="#333"/>
<text x="296.7" y="496.6" font-size="10" text-anchor="middle" fill="#2a2a2a">E</text>
<line x1="377.2" y1="429.2" x2="363.3" y2="420.2" stroke="#3c3c3c" stroke-width="0.9"/>
<path d="M363.3,420.2 L368.3,418.6 L368.3,421.8 Z" fill="#333" transform="rotate(33 363.3 420.2)"/>
<text x="378.5" y="433.6" font-size="10" text-anchor="start" fill="#2a2a2a">固定销</text>
<path d="M603.5,328.5 L603.5,281.5 L633.7,281.5" stroke="#3c3c3c" stroke-width="1" fill="none" stroke-dasharray="22.4 3.7 4.5 4.5 4.4 3.6" stroke-dashoffset="8.8"/>
<path d="M633.7,281.5 L638,285 L638,293.7" stroke="#3c3c3c" stroke-width="1" fill="none"/>
<line x1="633.7" y1="281.5" x2="637.5" y2="293.7" stroke="#3c3c3c" stroke-width="1"/>
<path d="M637.5,293.7 L654.4,293.7 L660,307.8 L660,328.8" stroke="#3c3c3c" stroke-width="1" fill="none"/>
<line x1="638.5" y1="293.7" x2="638.5" y2="328.8" stroke="#3c3c3c" stroke-width="1" stroke-dasharray="4.5 2.8"/>
<rect x="617.5" y="297.5" width="11" height="21" rx="2" stroke="#3c3c3c" stroke-width="1" fill="none"/>
<path d="M719.6,328.8 L719.6,307.8 L725.5,293.7 L742,293.7 L742,287.5" stroke="#3c3c3c" stroke-width="1" fill="none"/>
<path d="M776.5,328.5 L776.5,281.5 L746,281.5 Q742.5,281.5 742.5,287.5" stroke="#3c3c3c" stroke-width="1" fill="none" stroke-dasharray="22.4 3.7 4.5 4.5 4.4 3.6" stroke-dashoffset="8.8"/>
<rect x="751.5" y="297.5" width="10" height="21" rx="2" stroke="#3c3c3c" stroke-width="1" fill="none"/>
<line x1="563.7" y1="328.5" x2="806.8" y2="328.5" stroke="#3c3c3c" stroke-width="1.2"/>
<rect x="792.5" y="289.5" width="14" height="14" rx="0" stroke="#3c3c3c" stroke-width="1" fill="none"/>
<text x="799.5" y="300.8" font-size="10" text-anchor="middle" fill="#2a2a2a">B</text>
<line x1="799.5" y1="303.5" x2="799.5" y2="329" stroke="#3c3c3c" stroke-width="1"/>
<path d="M799.4,324.5 L796.4,329 L802.4,329 Z" fill="#222"/>
<path d="M592.5,328.5 L592.5,473" stroke="#3c3c3c" stroke-width="1" fill="none" stroke-dasharray="22.4 3.7 4.5 4.5 4.4 3.6" stroke-dashoffset="3.9"/>
<path d="M603.5,328.5 L603.5,430.5" stroke="#3c3c3c" stroke-width="1" fill="none" stroke-dasharray="22.4 3.7 4.5 4.5 4.4 3.6" stroke-dashoffset="3.9"/>
<path d="M607.5,328.5 L607.5,430" stroke="#3c3c3c" stroke-width="1" fill="none" stroke-dasharray="22.4 3.7 4.5 4.5 4.4 3.6" stroke-dashoffset="3.9"/>
<path d="M772.5,328.5 L772.5,430" stroke="#3c3c3c" stroke-width="1" fill="none" stroke-dasharray="22.4 3.7 4.5 4.5 4.4 3.6" stroke-dashoffset="3.9"/>
<path d="M776.5,328.5 L776.5,430.5" stroke="#3c3c3c" stroke-width="1" fill="none" stroke-dasharray="22.4 3.7 4.5 4.5 4.4 3.6" stroke-dashoffset="3.9"/>
<path d="M787.5,328.5 L787.5,473" stroke="#3c3c3c" stroke-width="1" fill="none" stroke-dasharray="22.4 3.7 4.5 4.5 4.4 3.6" stroke-dashoffset="3.9"/>
<path d="M592.5,473.5 L787.5,473.5" stroke="#3c3c3c" stroke-width="1" fill="none" stroke-dasharray="22.4 3.7 4.5 4.5 4.4 3.6"/>
<rect x="617.5" y="349.5" width="44" height="23" rx="3" stroke="#3c3c3c" stroke-width="1" fill="none"/>
<text x="620.6" y="360.3" font-size="14.5" font-weight="bold" textLength="36.4" lengthAdjust="spacingAndGlyphs" fill="#fff" stroke="#3a3a3a" stroke-width="0.75">omron</text>
<text x="620.9" y="370.6" font-size="10.7" font-weight="bold" textLength="32.6" lengthAdjust="spacingAndGlyphs" fill="#fff" stroke="#3a3a3a" stroke-width="0.75">XW4M</text>
<rect x="717.5" y="349.5" width="45" height="23" rx="3" stroke="#3c3c3c" stroke-width="1" fill="none" stroke-dasharray="5 2.5"/>
<path d="M721.2,347.8 L727.7,336.9 L734.2,347.8 Z" stroke="#3c3c3c" stroke-width="1.1" fill="none" stroke-linejoin="round"/>
<path d="M725.6,354 L743.7,353.8 L745.2,354.7 L748.2,366.3 L747.5,367.7 L738.5,367.7 L737.1,366.7 L735.7,363.1 L734.3,367.9 L729.1,367.9 L730.4,363.2 L728.3,363.1 L727.1,362.1 L724.9,355.1 Z" stroke="#3c3c3c" stroke-width="0.9" fill="#fff"/>
<path d="M739.4,354.7 L741.4,354.7 L743.2,363.1 L741.2,363.1 Z" stroke="#3c3c3c" stroke-width="0.8" fill="none"/>
<path d="M729.7,357.8 L734.6,357.8 L734.6,359.3 L729.7,359.3 Z" stroke="#3c3c3c" stroke-width="0.8" fill="none"/>
<line x1="736.9" y1="354.5" x2="737.7" y2="360" stroke="#3c3c3c" stroke-width="0.8"/>
<text x="723.1" y="368.1" font-size="8.5" font-weight="bold" text-anchor="middle" fill="#333">c</text>
<text x="749.5" y="368.1" font-size="8.5" font-weight="bold" textLength="8.7" lengthAdjust="spacingAndGlyphs" fill="#333">us</text>
<path d="M641.5,402.5 L641.5,395 Q641.5,392.5 644,392.5 L660.4,392.5 Q662.9,392.5 662.9,395 L662.9,402.5" stroke="#3c3c3c" stroke-width="1" fill="none"/>
<path d="M641.5,398.5 Q642.5,397 644.5,397 L659.9,397 Q661.9,397 662.9,398.5" stroke="#3c3c3c" stroke-width="1.5" fill="none"/>
<line x1="641.5" y1="405.5" x2="641.5" y2="433.8" stroke="#3c3c3c" stroke-width="1" stroke-dasharray="3 2"/>
<line x1="662.5" y1="405.5" x2="662.5" y2="433.8" stroke="#3c3c3c" stroke-width="1" stroke-dasharray="3 2"/>
<circle cx="652.2" cy="409.8" r="5.3" stroke="#3c3c3c" stroke-width="1" fill="none"/>
<line x1="646.9" y1="409.8" x2="657.5" y2="409.8" stroke="#3c3c3c" stroke-width="0.8"/>
<line x1="652.2" y1="404.5" x2="652.2" y2="415.1" stroke="#3c3c3c" stroke-width="0.8"/>
<circle cx="652.2" cy="427.7" r="5.3" stroke="#3c3c3c" stroke-width="1.2" fill="none"/>
<line x1="646.9" y1="427.7" x2="657.5" y2="427.7" stroke="#3c3c3c" stroke-width="0.8"/>
<line x1="652.2" y1="422.4" x2="652.2" y2="433" stroke="#3c3c3c" stroke-width="0.8"/>
<path d="M644.6,433.8 L644.6,421.5 Q644.6,419.5 646.6,419.5 L657.4,419.5 Q659.4,419.5 659.4,421.5 L659.4,433.8" stroke="#3c3c3c" stroke-width="1" fill="none"/>
<path d="M659.4,431.5 Q659.4,433.8 661.4,433.8 L667.4,433.8 Q669.4,433.8 669.4,431.5" stroke="#3c3c3c" stroke-width="1" fill="none"/>
<line x1="652.2" y1="416" x2="652.2" y2="419" stroke="#3c3c3c" stroke-width="0.8"/>
<line x1="652.2" y1="398" x2="652.2" y2="403" stroke="#3c3c3c" stroke-width="0.8" stroke-dasharray="2 2"/>
<line x1="652.2" y1="436" x2="652.2" y2="441" stroke="#3c3c3c" stroke-width="0.8"/>
<path d="M666.75,402.5 L666.75,395 Q666.75,392.5 669.25,392.5 L685.65,392.5 Q688.15,392.5 688.15,395 L688.15,402.5" stroke="#3c3c3c" stroke-width="1" fill="none"/>
<path d="M666.75,398.5 Q667.75,397 669.75,397 L685.15,397 Q687.15,397 688.15,398.5" stroke="#3c3c3c" stroke-width="1.5" fill="none"/>
<line x1="666.5" y1="405.5" x2="666.5" y2="433.8" stroke="#3c3c3c" stroke-width="1" stroke-dasharray="3 2"/>
<line x1="688.5" y1="405.5" x2="688.5" y2="433.8" stroke="#3c3c3c" stroke-width="1" stroke-dasharray="3 2"/>
<circle cx="677.5" cy="409.8" r="5.3" stroke="#3c3c3c" stroke-width="1" fill="none"/>
<line x1="672.2" y1="409.8" x2="682.8" y2="409.8" stroke="#3c3c3c" stroke-width="0.8"/>
<line x1="677.5" y1="404.5" x2="677.5" y2="415.1" stroke="#3c3c3c" stroke-width="0.8"/>
<circle cx="677.5" cy="427.7" r="5.3" stroke="#3c3c3c" stroke-width="1.2" fill="none"/>
<line x1="672.2" y1="427.7" x2="682.8" y2="427.7" stroke="#3c3c3c" stroke-width="0.8"/>
<line x1="677.5" y1="422.4" x2="677.5" y2="433" stroke="#3c3c3c" stroke-width="0.8"/>
<path d="M669.9,433.8 L669.9,421.5 Q669.9,419.5 671.9,419.5 L682.7,419.5 Q684.7,419.5 684.7,421.5 L684.7,433.8" stroke="#3c3c3c" stroke-width="1" fill="none"/>
<path d="M684.7,431.5 Q684.7,433.8 686.7,433.8 L692.7,433.8 Q694.7,433.8 694.7,431.5" stroke="#3c3c3c" stroke-width="1" fill="none"/>
<line x1="677.5" y1="416" x2="677.5" y2="419" stroke="#3c3c3c" stroke-width="0.8"/>
<line x1="677.5" y1="398" x2="677.5" y2="403" stroke="#3c3c3c" stroke-width="0.8" stroke-dasharray="2 2"/>
<line x1="677.5" y1="436" x2="677.5" y2="441" stroke="#3c3c3c" stroke-width="0.8"/>
<path d="M692,402.5 L692,395 Q692,392.5 694.5,392.5 L710.9,392.5 Q713.4,392.5 713.4,395 L713.4,402.5" stroke="#3c3c3c" stroke-width="1" fill="none"/>
<path d="M692,398.5 Q693,397 695,397 L710.4,397 Q712.4,397 713.4,398.5" stroke="#3c3c3c" stroke-width="1.5" fill="none"/>
<line x1="692.5" y1="405.5" x2="692.5" y2="433.8" stroke="#3c3c3c" stroke-width="1" stroke-dasharray="3 2"/>
<line x1="713.5" y1="405.5" x2="713.5" y2="433.8" stroke="#3c3c3c" stroke-width="1" stroke-dasharray="3 2"/>
<circle cx="702.8" cy="409.8" r="5.3" stroke="#3c3c3c" stroke-width="1" fill="none"/>
<line x1="697.5" y1="409.8" x2="708.1" y2="409.8" stroke="#3c3c3c" stroke-width="0.8"/>
<line x1="702.8" y1="404.5" x2="702.8" y2="415.1" stroke="#3c3c3c" stroke-width="0.8"/>
<circle cx="702.8" cy="427.7" r="5.3" stroke="#3c3c3c" stroke-width="1.2" fill="none"/>
<line x1="697.5" y1="427.7" x2="708.1" y2="427.7" stroke="#3c3c3c" stroke-width="0.8"/>
<line x1="702.8" y1="422.4" x2="702.8" y2="433" stroke="#3c3c3c" stroke-width="0.8"/>
<path d="M695.2,433.8 L695.2,421.5 Q695.2,419.5 697.2,419.5 L708,419.5 Q710,419.5 710,421.5 L710,433.8" stroke="#3c3c3c" stroke-width="1" fill="none"/>
<path d="M710,431.5 Q710,433.8 712,433.8 L718,433.8 Q720,433.8 720,431.5" stroke="#3c3c3c" stroke-width="1" fill="none"/>
<line x1="702.8" y1="416" x2="702.8" y2="419" stroke="#3c3c3c" stroke-width="0.8"/>
<line x1="702.8" y1="398" x2="702.8" y2="403" stroke="#3c3c3c" stroke-width="0.8" stroke-dasharray="2 2"/>
<line x1="702.8" y1="436" x2="702.8" y2="441" stroke="#3c3c3c" stroke-width="0.8"/>
<path d="M717.25,402.5 L717.25,395 Q717.25,392.5 719.75,392.5 L736.15,392.5 Q738.65,392.5 738.65,395 L738.65,402.5" stroke="#3c3c3c" stroke-width="1" fill="none"/>
<path d="M717.25,398.5 Q718.25,397 720.25,397 L735.65,397 Q737.65,397 738.65,398.5" stroke="#3c3c3c" stroke-width="1.5" fill="none"/>
<line x1="717.5" y1="405.5" x2="717.5" y2="433.8" stroke="#3c3c3c" stroke-width="1" stroke-dasharray="3 2"/>
<line x1="738.5" y1="405.5" x2="738.5" y2="433.8" stroke="#3c3c3c" stroke-width="1" stroke-dasharray="3 2"/>
<circle cx="728.1" cy="409.8" r="5.3" stroke="#3c3c3c" stroke-width="1" fill="none"/>
<line x1="722.8" y1="409.8" x2="733.4" y2="409.8" stroke="#3c3c3c" stroke-width="0.8"/>
<line x1="728.1" y1="404.5" x2="728.1" y2="415.1" stroke="#3c3c3c" stroke-width="0.8"/>
<circle cx="728.1" cy="427.7" r="5.3" stroke="#3c3c3c" stroke-width="1.2" fill="none"/>
<line x1="722.8" y1="427.7" x2="733.4" y2="427.7" stroke="#3c3c3c" stroke-width="0.8"/>
<line x1="728.1" y1="422.4" x2="728.1" y2="433" stroke="#3c3c3c" stroke-width="0.8"/>
<path d="M720.5,433.8 L720.5,421.5 Q720.5,419.5 722.5,419.5 L733.3,419.5 Q735.3,419.5 735.3,421.5 L735.3,433.8" stroke="#3c3c3c" stroke-width="1" fill="none"/>
<path d="M735.3,431.5 Q735.3,433.8 737.3,433.8 L743.3,433.8 Q745.3,433.8 745.3,431.5" stroke="#3c3c3c" stroke-width="1" fill="none"/>
<line x1="728.1" y1="416" x2="728.1" y2="419" stroke="#3c3c3c" stroke-width="0.8"/>
<line x1="728.1" y1="398" x2="728.1" y2="403" stroke="#3c3c3c" stroke-width="0.8" stroke-dasharray="2 2"/>
<line x1="728.1" y1="436" x2="728.1" y2="441" stroke="#3c3c3c" stroke-width="0.8"/>
<line x1="641.5" y1="409.8" x2="740" y2="409.8" stroke="#3c3c3c" stroke-width="0.8" stroke-dasharray="2 2 1 2"/>
<rect x="615.5" y="410.5" width="23" height="13" rx="0" stroke="#3c3c3c" stroke-width="1" fill="none"/>
<rect x="617.7" y="411.6" width="18.4" height="8.6" rx="0" stroke="none" stroke-width="0" fill="#4a4a4a"/>
<line x1="615.5" y1="411.2" x2="618.5" y2="412.5" stroke="#3c3c3c" stroke-width="0.9"/>
<line x1="638.3" y1="411.2" x2="635.3" y2="412.5" stroke="#3c3c3c" stroke-width="0.9"/>
<rect x="619.3" y="413.2" width="1.8" height="1.8" rx="0" stroke="none" stroke-width="0" fill="#fff"/>
<rect x="619.3" y="416.6" width="1.8" height="1.8" rx="0" stroke="none" stroke-width="0" fill="#fff"/>
<rect x="632.9" y="413.2" width="1.8" height="1.8" rx="0" stroke="none" stroke-width="0" fill="#fff"/>
<rect x="632.9" y="416.6" width="1.8" height="1.8" rx="0" stroke="none" stroke-width="0" fill="#fff"/>
<circle cx="626.9" cy="416" r="3.9" stroke="#3c3c3c" stroke-width="0.9" fill="#d9d9d9"/>
<line x1="623" y1="416" x2="630.8" y2="416" stroke="#3c3c3c" stroke-width="0.7"/>
<line x1="626.9" y1="412.1" x2="626.9" y2="419.9" stroke="#3c3c3c" stroke-width="0.7"/>
<rect x="616" y="420.6" width="21.8" height="2.2" rx="0" stroke="none" stroke-width="0" fill="#666"/>
<rect x="617" y="421" width="1.8" height="1.4" rx="0" stroke="none" stroke-width="0" fill="#fff"/>
<rect x="621" y="421" width="1.8" height="1.4" rx="0" stroke="none" stroke-width="0" fill="#fff"/>
<rect x="631" y="421" width="1.8" height="1.4" rx="0" stroke="none" stroke-width="0" fill="#fff"/>
<rect x="635" y="421" width="1.8" height="1.4" rx="0" stroke="none" stroke-width="0" fill="#fff"/>
<rect x="623.5" y="423.5" width="7" height="10" rx="0" stroke="#3c3c3c" stroke-width="0.9" fill="#f4f4f4"/>
<line x1="623.2" y1="425.6" x2="630.6" y2="425.6" stroke="#555" stroke-width="0.7"/>
<line x1="623.2" y1="428" x2="630.6" y2="428" stroke="#555" stroke-width="0.7"/>
<line x1="623.2" y1="431" x2="630.6" y2="431" stroke="#555" stroke-width="0.7"/>
<rect x="741.5" y="410.5" width="23" height="13" rx="0" stroke="#3c3c3c" stroke-width="1" fill="none"/>
<rect x="743.7" y="411.6" width="18.4" height="8.6" rx="0" stroke="none" stroke-width="0" fill="#4a4a4a"/>
<line x1="741.5" y1="411.2" x2="744.5" y2="412.5" stroke="#3c3c3c" stroke-width="0.9"/>
<line x1="764.3" y1="411.2" x2="761.3" y2="412.5" stroke="#3c3c3c" stroke-width="0.9"/>
<rect x="745.3" y="413.2" width="1.8" height="1.8" rx="0" stroke="none" stroke-width="0" fill="#fff"/>
<rect x="745.3" y="416.6" width="1.8" height="1.8" rx="0" stroke="none" stroke-width="0" fill="#fff"/>
<rect x="758.9" y="413.2" width="1.8" height="1.8" rx="0" stroke="none" stroke-width="0" fill="#fff"/>
<rect x="758.9" y="416.6" width="1.8" height="1.8" rx="0" stroke="none" stroke-width="0" fill="#fff"/>
<circle cx="752.9" cy="416" r="3.9" stroke="#3c3c3c" stroke-width="0.9" fill="#d9d9d9"/>
<line x1="749" y1="416" x2="756.8" y2="416" stroke="#3c3c3c" stroke-width="0.7"/>
<line x1="752.9" y1="412.1" x2="752.9" y2="419.9" stroke="#3c3c3c" stroke-width="0.7"/>
<rect x="742" y="420.6" width="21.8" height="2.2" rx="0" stroke="none" stroke-width="0" fill="#666"/>
<rect x="743" y="421" width="1.8" height="1.4" rx="0" stroke="none" stroke-width="0" fill="#fff"/>
<rect x="747" y="421" width="1.8" height="1.4" rx="0" stroke="none" stroke-width="0" fill="#fff"/>
<rect x="757" y="421" width="1.8" height="1.4" rx="0" stroke="none" stroke-width="0" fill="#fff"/>
<rect x="761" y="421" width="1.8" height="1.4" rx="0" stroke="none" stroke-width="0" fill="#fff"/>
<rect x="749.5" y="423.5" width="7" height="10" rx="0" stroke="#3c3c3c" stroke-width="0.9" fill="#f4f4f4"/>
<line x1="749.2" y1="425.6" x2="756.6" y2="425.6" stroke="#555" stroke-width="0.7"/>
<line x1="749.2" y1="428" x2="756.6" y2="428" stroke="#555" stroke-width="0.7"/>
<line x1="749.2" y1="431" x2="756.6" y2="431" stroke="#555" stroke-width="0.7"/>
<line x1="604" y1="430.5" x2="641" y2="430.5" stroke="#3c3c3c" stroke-width="0.8"/>
<line x1="738" y1="429.2" x2="776" y2="429.2" stroke="#3c3c3c" stroke-width="0.8"/>
<path d="M603.8,430.5 L607.5,433.8 L776.5,433.8 L779.5,430.5" stroke="#3c3c3c" stroke-width="1" fill="none"/>
<line x1="607.6" y1="430" x2="772.5" y2="430" stroke="#3c3c3c" stroke-width="0.8"/>
<line x1="563.7" y1="409.9" x2="641.5" y2="409.9" stroke="#3c3c3c" stroke-width="1.6"/>
<line x1="563.7" y1="416.5" x2="614.5" y2="416.5" stroke="#3c3c3c" stroke-width="1"/>
<line x1="765.3" y1="409.5" x2="816.9" y2="409.5" stroke="#3c3c3c" stroke-width="1.1"/>
<line x1="776.2" y1="428.5" x2="816.9" y2="428.5" stroke="#3c3c3c" stroke-width="1"/>
<line x1="568.5" y1="328.8" x2="568.5" y2="368.9" stroke="#3c3c3c" stroke-width="1"/>
<line x1="568.5" y1="390.3" x2="568.5" y2="409.9" stroke="#3c3c3c" stroke-width="1"/>
<path d="M568.5,328.8 L566.9,333.8 L570.1,333.8 Z" fill="#333"/>
<path d="M568.5,409.9 L566.9,404.9 L570.1,404.9 Z" fill="#333"/>
<rect x="555.5" y="368.5" width="13" height="22" rx="0" stroke="#3c3c3c" stroke-width="1" fill="none"/>
<text x="566" y="379.6" font-size="10" text-anchor="middle" fill="#2a2a2a" transform="rotate(-90 566 379.6)">11.2</text>
<text x="565.5" y="357.6" font-size="10" text-anchor="middle" fill="#2a2a2a" transform="rotate(-90 565.5 357.6)">Max</text>
<line x1="568.5" y1="416.3" x2="568.5" y2="442.4" stroke="#3c3c3c" stroke-width="1"/>
<path d="M568.5,416.3 L566.9,421.3 L570.1,421.3 Z" fill="#333"/>
<rect x="555.5" y="422.5" width="13" height="20" rx="0" stroke="#3c3c3c" stroke-width="1" fill="none"/>
<text x="566" y="432.7" font-size="10" text-anchor="middle" fill="#2a2a2a" transform="rotate(-90 566 432.7)">0.9</text>
<line x1="811.5" y1="410.1" x2="811.5" y2="428" stroke="#3c3c3c" stroke-width="1"/>
<path d="M811.6,410.1 L810,415.1 L813.2,415.1 Z" fill="#333"/>
<path d="M811.6,428 L810,423 L813.2,423 Z" fill="#333"/>
<rect x="797.5" y="411.5" width="12" height="16" rx="0" stroke="#3c3c3c" stroke-width="1" fill="none"/>
<text x="808" y="419.3" font-size="10" text-anchor="middle" fill="#2a2a2a" transform="rotate(-90 808 419.3)">2.5</text>
<line x1="627.5" y1="434" x2="627.5" y2="509.9" stroke="#3c3c3c" stroke-width="1"/>
<line x1="652.5" y1="441" x2="652.5" y2="510.5" stroke="#3c3c3c" stroke-width="1"/>
<line x1="677.5" y1="441" x2="677.5" y2="510.5" stroke="#3c3c3c" stroke-width="1"/>
<line x1="627.1" y1="505.5" x2="652.4" y2="505.5" stroke="#3c3c3c" stroke-width="1"/>
<path d="M627.1,505.5 L632.1,503.9 L632.1,507.1 Z" fill="#333"/>
<path d="M652.4,505.5 L647.4,503.9 L647.4,507.1 Z" fill="#333"/>
<line x1="652.4" y1="505.5" x2="677.7" y2="505.5" stroke="#3c3c3c" stroke-width="1"/>
<path d="M652.4,505.5 L657.4,503.9 L657.4,507.1 Z" fill="#333"/>
<path d="M677.7,505.5 L672.7,503.9 L672.7,507.1 Z" fill="#333"/>
<rect x="631.5" y="491.5" width="17" height="11" rx="0" stroke="#3c3c3c" stroke-width="1" fill="none"/>
<text x="640" y="501" font-size="10" text-anchor="middle" fill="#2a2a2a">3.5</text>
<text x="574.6" y="520.6" font-size="9.8" text-anchor="start" fill="#333">引脚</text>
<line x1="595.8" y1="513.3" x2="601.8" y2="519.8" stroke="#444" stroke-width="0.9"/>
<line x1="595.8" y1="519.8" x2="601.8" y2="513.3" stroke="#444" stroke-width="0.9"/>
<rect x="605.5" y="510.5" width="17" height="12" rx="0" stroke="#3c3c3c" stroke-width="1" fill="none"/>
<text x="0" y="0" font-size="10.6" text-anchor="middle" fill="#2a2a2a" transform="translate(614 520.6) scale(1 0.88)">3.5</text>
<text x="624.2" y="520.6" font-size="9.6" text-anchor="start" fill="#333">间距</text>
<path d="M574.3,522.6 L644.7,522.6 L664.6,505.5" stroke="#3c3c3c" stroke-width="1" fill="none"/>
<path d="M551.5,460.1 L580.2,460.1 L625,418.2" stroke="#3c3c3c" stroke-width="1" fill="none"/>
<path d="M532.5,488.3 L560.9,488.3 L656.5,405.5" stroke="#3c3c3c" stroke-width="1" fill="none"/>
<text x="0" y="0" font-size="10.2" text-anchor="start" fill="#2a2a2a" transform="translate(468.2 449.7) scale(1 0.86)">2</text>
<line x1="476" y1="444" x2="482.6" y2="449.8" stroke="#444" stroke-width="0.9"/>
<line x1="476" y1="449.8" x2="482.6" y2="444" stroke="#444" stroke-width="0.9"/>
<text x="0" y="0" font-size="10.2" text-anchor="start" fill="#2a2a2a" transform="translate(483.6 449.7) scale(1 0.86)" textLength="48.4" lengthAdjust="spacingAndGlyphs">φ1.4 ±0.08</text>
<rect x="468.7" y="453.4" width="82.8" height="13.7" rx="0" stroke="#3c3c3c" stroke-width="1.5" fill="none"/>
<line x1="482.5" y1="453.4" x2="482.5" y2="467.1" stroke="#3c3c3c" stroke-width="1.2"/>
<line x1="510.5" y1="453.4" x2="510.5" y2="467.1" stroke="#3c3c3c" stroke-width="1.2"/>
<line x1="524.5" y1="453.4" x2="524.5" y2="467.1" stroke="#3c3c3c" stroke-width="1.2"/>
<line x1="537.5" y1="453.4" x2="537.5" y2="467.1" stroke="#3c3c3c" stroke-width="1.2"/>
<circle cx="475.55" cy="460.25" r="2.9" stroke="#3c3c3c" stroke-width="1.1" fill="none"/>
<line x1="470.75" y1="460.5" x2="480.35" y2="460.5" stroke="#3c3c3c" stroke-width="1.1"/>
<line x1="475.5" y1="455.75" x2="475.5" y2="464.75" stroke="#3c3c3c" stroke-width="1.1"/>
<text x="0" y="0" font-size="10.6" text-anchor="middle" fill="#2a2a2a" transform="translate(496.4 463.8) scale(1 0.88)">φ0.2</text>
<text x="0" y="0" font-size="10.6" text-anchor="middle" fill="#2a2a2a" transform="translate(517.3 463.8) scale(1 0.88)">A</text>
<text x="0" y="0" font-size="10.6" text-anchor="middle" fill="#2a2a2a" transform="translate(530.9 463.8) scale(1 0.88)">B</text>
<text x="0" y="0" font-size="10.6" text-anchor="middle" fill="#2a2a2a" transform="translate(544.6 463.8) scale(1 0.88)">C</text>
<text x="462.3" y="478.8" font-size="9.6" text-anchor="start" fill="#333">引脚</text>
<line x1="483" y1="473.5" x2="489.8" y2="478.8" stroke="#444" stroke-width="0.9"/>
<line x1="483" y1="478.8" x2="489.8" y2="473.5" stroke="#444" stroke-width="0.9"/>
<text x="0" y="0" font-size="10.2" text-anchor="start" fill="#2a2a2a" transform="translate(490.8 478.7) scale(1 0.86)" textLength="48" lengthAdjust="spacingAndGlyphs">φ1.4 ±0.08</text>
<rect x="463.5" y="481.7" width="69.1" height="13.6" rx="0" stroke="#3c3c3c" stroke-width="1.5" fill="none"/>
<line x1="476.5" y1="481.7" x2="476.5" y2="495.3" stroke="#3c3c3c" stroke-width="1.2"/>
<line x1="505.5" y1="481.7" x2="505.5" y2="495.3" stroke="#3c3c3c" stroke-width="1.2"/>
<line x1="518.5" y1="481.7" x2="518.5" y2="495.3" stroke="#3c3c3c" stroke-width="1.2"/>
<circle cx="470" cy="488.5" r="2.9" stroke="#3c3c3c" stroke-width="1.1" fill="none"/>
<line x1="465.2" y1="488.5" x2="474.8" y2="488.5" stroke="#3c3c3c" stroke-width="1.1"/>
<line x1="470.5" y1="484" x2="470.5" y2="493" stroke="#3c3c3c" stroke-width="1.1"/>
<text x="0" y="0" font-size="10.6" text-anchor="middle" fill="#2a2a2a" transform="translate(490.9 492) scale(1 0.88)">φ0.2</text>
<text x="0" y="0" font-size="10.6" text-anchor="middle" fill="#2a2a2a" transform="translate(511.5 492) scale(1 0.88)">A</text>
<text x="0" y="0" font-size="10.6" text-anchor="middle" fill="#2a2a2a" transform="translate(524.7 492) scale(1 0.88)">B</text>
<path d="M495.3,495.3 L500.5,495.3 L497.9,500.2 Z" fill="#222"/>
<line x1="497.5" y1="495.3" x2="497.5" y2="510.4" stroke="#3c3c3c" stroke-width="1"/>
<rect x="490.5" y="510.5" width="15" height="14" rx="0" stroke="#3c3c3c" stroke-width="1" fill="none"/>
<text x="0" y="0" font-size="10.8" text-anchor="middle" fill="#2a2a2a" transform="translate(497.8 521.3) scale(1 0.9)">C</text>
<text x="758.5" y="498.8" font-size="13.6" text-anchor="middle" fill="#2a2a2a">印刷电路板加工尺寸</text>
<text x="0" y="0" font-size="14" text-anchor="start" fill="#2a2a2a" transform="translate(724 514.6) scale(1 1)" textLength="67" lengthAdjust="spacingAndGlyphs">TOP VIEW</text>
<text x="710.6" y="514.6" font-size="13" text-anchor="start" fill="#2a2a2a">（</text>
<text x="794.6" y="514.6" font-size="13" text-anchor="start" fill="#2a2a2a">）</text>
<line x1="879.5" y1="199.9" x2="879.5" y2="307.5" stroke="#3c3c3c" stroke-width="1"/>
<line x1="1012.5" y1="199.9" x2="1012.5" y2="307.5" stroke="#3c3c3c" stroke-width="1"/>
<line x1="879.2" y1="204.5" x2="1012.7" y2="204.5" stroke="#3c3c3c" stroke-width="1"/>
<path d="M879.2,204.9 L884.2,203.3 L884.2,206.5 Z" fill="#333"/>
<path d="M1012.7,204.9 L1007.7,203.3 L1007.7,206.5 Z" fill="#333"/>
<text x="946" y="203" font-size="10" text-anchor="middle" fill="#2a2a2a">（18.5）</text>
<line x1="887.5" y1="214.2" x2="887.5" y2="257.3" stroke="#3c3c3c" stroke-width="1"/>
<line x1="1004.5" y1="214.2" x2="1004.5" y2="257.3" stroke="#3c3c3c" stroke-width="1"/>
<line x1="887.3" y1="219.5" x2="1004.7" y2="219.5" stroke="#3c3c3c" stroke-width="1"/>
<path d="M887.3,219.6 L892.3,218 L892.3,221.2 Z" fill="#333"/>
<path d="M1004.7,219.6 L999.7,218 L999.7,221.2 Z" fill="#333"/>
<text x="945.3" y="218.6" font-size="10" text-anchor="middle" fill="#2a2a2a">16.3</text>
<line x1="835.5" y1="243.5" x2="973.2" y2="243.5" stroke="#3c3c3c" stroke-width="1.2"/>
<line x1="840.5" y1="243.6" x2="840.5" y2="452.2" stroke="#3c3c3c" stroke-width="1"/>
<path d="M840.8,243.6 L839.2,248.6 L842.4,248.6 Z" fill="#333"/>
<path d="M840.8,452.2 L839.2,447.2 L842.4,447.2 Z" fill="#333"/>
<text x="839.8" y="348.8" font-size="10" text-anchor="middle" fill="#2a2a2a" transform="rotate(-90 839.8 348.8)">29</text>
<line x1="835" y1="452.5" x2="1031.3" y2="452.5" stroke="#3c3c3c" stroke-width="1.2"/>
<path d="M903.5,257.3 L918.1,243.6 L973.2,243.6 L988.5,257.3" stroke="#3c3c3c" stroke-width="1" fill="none"/>
<line x1="918.5" y1="243.6" x2="918.5" y2="257.3" stroke="#3c3c3c" stroke-width="1"/>
<line x1="924.5" y1="243.6" x2="924.5" y2="257.3" stroke="#3c3c3c" stroke-width="1"/>
<line x1="967.5" y1="243.6" x2="967.5" y2="257.3" stroke="#3c3c3c" stroke-width="1"/>
<line x1="973.5" y1="243.6" x2="973.5" y2="257.3" stroke="#3c3c3c" stroke-width="1"/>
<rect x="886.5" y="257.5" width="118" height="42" rx="2.5" stroke="#3c3c3c" stroke-width="1" fill="none"/>
<line x1="886.7" y1="261.5" x2="1004.5" y2="261.5" stroke="#3c3c3c" stroke-width="1"/>
<line x1="886.7" y1="296.5" x2="1004.5" y2="296.5" stroke="#3c3c3c" stroke-width="1"/>
<line x1="890.9" y1="261.2" x2="890.9" y2="296.3" stroke="#3c3c3c" stroke-width="0.8"/>
<line x1="1001" y1="261.2" x2="1001" y2="296.3" stroke="#3c3c3c" stroke-width="0.8"/>
<circle cx="946" cy="275.7" r="4.9" stroke="#3c3c3c" stroke-width="1" fill="none"/>
<line x1="945.5" y1="231" x2="945.5" y2="340.3" stroke="#3c3c3c" stroke-width="1"/>
<line x1="945.5" y1="343.8" x2="945.5" y2="349.4" stroke="#3c3c3c" stroke-width="1"/>
<line x1="945.5" y1="352.9" x2="945.5" y2="462.3" stroke="#3c3c3c" stroke-width="1"/>
<path d="M887.3,269.2 L882.5,269.2 L882.5,310.3 L879.2,310.3 L879.2,334 L901.4,345.2 L907.6,345.2" stroke="#3c3c3c" stroke-width="1" fill="none"/>
<path d="M1004.7,269.2 L1009.4,269.2 L1009.4,310.3 L1012.7,310.3 L1012.7,334 L990.5,345.2 L984.4,345.2" stroke="#3c3c3c" stroke-width="1" fill="none"/>
<path d="M894.4,300 Q896,304 899.3,309 L899.3,338 Q899.3,343 903,343.5 L907.6,345.2" stroke="#3c3c3c" stroke-width="1" fill="none"/>
<line x1="894.4" y1="300" x2="907.6" y2="308.5" stroke="#3c3c3c" stroke-width="0.9"/>
<line x1="899.3" y1="326" x2="907.6" y2="331" stroke="#3c3c3c" stroke-width="0.9"/>
<path d="M997.5,300 Q996,304 992.6,309 L992.6,338 Q992.6,343 989,343.5 L984.4,345.2" stroke="#3c3c3c" stroke-width="1" fill="none"/>
<line x1="997.5" y1="300" x2="984.4" y2="308.5" stroke="#3c3c3c" stroke-width="0.9"/>
<line x1="992.6" y1="326" x2="984.4" y2="331" stroke="#3c3c3c" stroke-width="0.9"/>
<line x1="984.4" y1="303" x2="993" y2="299.9" stroke="#3c3c3c" stroke-width="0.9"/>
<line x1="907.5" y1="299.9" x2="907.5" y2="452.2" stroke="#666" stroke-width="0.9"/>
<line x1="984.5" y1="299.9" x2="984.5" y2="452.2" stroke="#666" stroke-width="0.9"/>
<line x1="911.5" y1="347.3" x2="911.5" y2="448.7" stroke="#666" stroke-width="0.9"/>
<line x1="907.6" y1="347.5" x2="911.1" y2="347.5" stroke="#3c3c3c" stroke-width="1"/>
<line x1="980.5" y1="347.3" x2="980.5" y2="448.7" stroke="#666" stroke-width="0.9"/>
<line x1="980.8" y1="347.5" x2="996.4" y2="347.5" stroke="#3c3c3c" stroke-width="1"/>
<line x1="996.5" y1="347.3" x2="996.5" y2="491.5" stroke="#3c3c3c" stroke-width="1"/>
<line x1="984.5" y1="450.2" x2="984.5" y2="491.5" stroke="#3c3c3c" stroke-width="1"/>
<line x1="984.2" y1="491.5" x2="996.4" y2="491.5" stroke="#3c3c3c" stroke-width="1"/>
<line x1="911.1" y1="448.7" x2="980.8" y2="448.7" stroke="#777" stroke-width="1.6"/>
<line x1="907.6" y1="452.2" x2="911.1" y2="448.7" stroke="#3c3c3c" stroke-width="0.8"/>
<line x1="984.4" y1="452.2" x2="980.8" y2="448.7" stroke="#3c3c3c" stroke-width="0.8"/>
<path d="M996.4,396.9 L1002,394 L1002,399.8 Z" fill="#222"/>
<line x1="1002" y1="396.5" x2="1010.3" y2="396.5" stroke="#3c3c3c" stroke-width="1"/>
<rect x="1010.5" y="390.5" width="14" height="13" rx="0" stroke="#3c3c3c" stroke-width="1" fill="none"/>
<text x="1017.4" y="401.2" font-size="10" text-anchor="middle" fill="#2a2a2a">A</text>
<path d="M996.4,425.6 L1004,425.6 Q1009.2,425.6 1009.2,428.4 Q1009.2,431.2 1004,431.2 L996.4,431.2" stroke="#3c3c3c" stroke-width="1" fill="none"/>
<line x1="1004" y1="425.6" x2="1004" y2="431.2" stroke="#3c3c3c" stroke-width="0.7"/>
<path d="M996.4,431.6 L1004,431.6 Q1009.2,431.6 1009.2,434.6 Q1009.2,437.6 1004,437.6 L996.4,437.6" stroke="#3c3c3c" stroke-width="1" fill="none"/>
<line x1="1004" y1="431.6" x2="1004" y2="437.6" stroke="#3c3c3c" stroke-width="0.7"/>
<path d="M996.4,443.2 L1004,443.2 Q1009.2,443.2 1009.2,446.2 Q1009.2,449.2 1004,449.2 L996.4,449.2" stroke="#3c3c3c" stroke-width="1" fill="none"/>
<line x1="1004" y1="443.2" x2="1004" y2="449.2" stroke="#3c3c3c" stroke-width="0.7"/>
<line x1="932.4" y1="446.5" x2="1031" y2="446.5" stroke="#3c3c3c" stroke-width="0.9" stroke-dasharray="52 3 4 3 14 3 4 3 14"/>
<line x1="1026.5" y1="438" x2="1026.5" y2="446.3" stroke="#3c3c3c" stroke-width="1"/>
<path d="M1026.3,446.3 L1024.7,441.3 L1027.9,441.3 Z" fill="#333"/>
<line x1="1026.5" y1="452.2" x2="1026.5" y2="474.3" stroke="#3c3c3c" stroke-width="1"/>
<path d="M1026.3,452.2 L1024.7,457.2 L1027.9,457.2 Z" fill="#333"/>
<line x1="1026.5" y1="446.3" x2="1026.5" y2="452.2" stroke="#3c3c3c" stroke-width="1"/>
<text x="1024.6" y="466.3" font-size="10" text-anchor="middle" fill="#2a2a2a" transform="rotate(-90 1024.6 466.3)">0.8</text>
<text x="847.2" y="479.2" font-size="13.8" text-anchor="start" fill="#2a2a2a">XW4N嵌合侧面图</text>
</svg>
</body></html>
